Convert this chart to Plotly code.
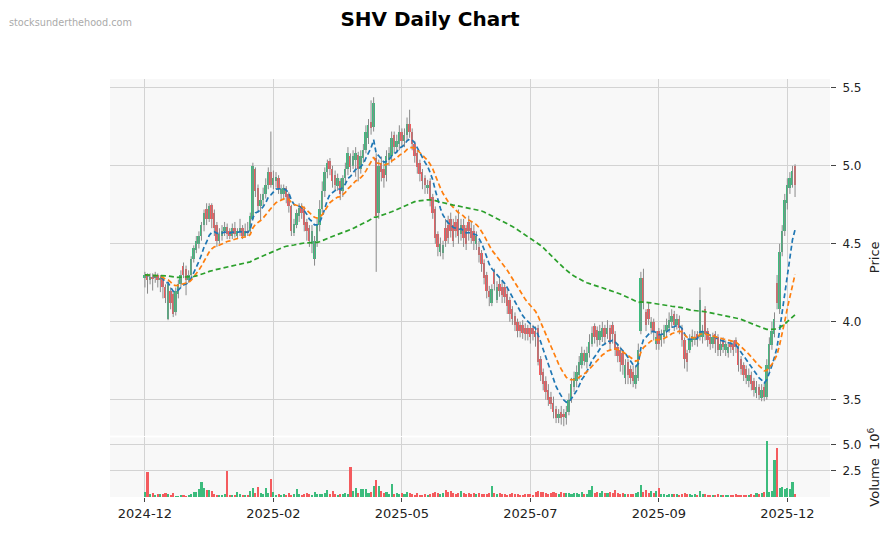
import plotly.graph_objects as go
import pandas as pd

tick_pos = [0, 50, 100, 150, 200, 250]
tick_labels = ["2024-12", "2025-02", "2025-05", "2025-07", "2025-09", "2025-12"]

opens = [
    4.28, 4.30, 4.27, 4.29, 4.28, 4.30, 4.27, 4.28, 4.22, 4.02,
    4.20, 4.18, 4.06, 4.18, 4.24, 4.36, 4.34, 4.27, 4.30, 4.40,
    4.46, 4.50, 4.55, 4.62, 4.72, 4.66, 4.75, 4.70, 4.62, 4.52,
    4.55, 4.58, 4.61, 4.58, 4.55, 4.60, 4.55, 4.58, 4.60, 4.55,
    4.58, 4.58, 4.66, 4.98, 4.86, 4.74, 4.78, 4.82, 4.88, 4.96,
    4.88, 4.90, 4.92, 4.82, 4.82, 4.86, 4.82, 4.74, 4.57, 4.62,
    4.68, 4.74, 4.72, 4.64, 4.60, 4.50, 4.40, 4.52, 4.62, 4.72,
    4.84, 4.96, 5.03, 4.98, 4.94, 4.87, 4.90, 4.84, 4.92, 4.98,
    5.06, 5.00, 5.04, 5.07, 4.98, 5.05, 5.10, 5.18, 5.28, 5.25,
    5.05, 4.70, 5.02, 4.98, 4.94, 5.04, 5.06, 5.20, 5.12, 5.14,
    5.22, 5.16, 5.20, 5.27, 5.22, 5.14, 5.08, 5.02, 4.96, 4.92,
    4.86, 4.90, 4.80, 4.72, 4.56, 4.45, 4.44, 4.60, 4.62, 4.66,
    4.62, 4.64, 4.66, 4.56, 4.62, 4.60, 4.64, 4.60, 4.58, 4.50,
    4.48, 4.44, 4.38, 4.30, 4.20, 4.12, 4.32, 4.14, 4.24, 4.22,
    4.22, 4.18, 4.14, 4.08, 4.04, 4.00, 3.98, 3.98, 3.96, 3.96,
    3.96, 3.96, 3.94, 3.96, 3.76, 3.68, 3.62, 3.56, 3.52, 3.48,
    3.44, 3.38, 3.42, 3.41, 3.38, 3.42, 3.50, 3.58, 3.62, 3.66,
    3.72, 3.80, 3.74, 3.80, 3.86, 3.97, 3.95, 3.88, 3.90, 3.96,
    3.92, 3.96, 3.98, 3.92, 3.84, 3.82, 3.80, 3.64, 3.74, 3.70,
    3.68, 3.60, 3.64, 3.94, 4.28, 4.06, 4.08, 3.96, 4.00, 3.86,
    3.94, 3.88, 3.90, 3.94, 3.96, 4.00, 4.05, 3.98, 4.02, 3.96,
    3.88, 3.80, 3.82, 3.87, 3.88, 3.92, 3.90, 3.90, 4.08, 3.94,
    3.90, 3.86, 3.92, 3.90, 3.82, 3.88, 3.82, 3.80, 3.86, 3.86,
    3.88, 3.84, 3.76, 3.72, 3.70, 3.62, 3.66, 3.62, 3.54, 3.58,
    3.51, 3.58, 3.52, 3.70, 3.85, 3.92, 4.25, 4.08, 4.45, 4.58,
    4.76, 4.86, 4.88, 5.00,
]

closes = [
    4.30, 4.27, 4.29, 4.28, 4.30, 4.27, 4.28, 4.22, 4.15, 4.24,
    4.12, 4.05, 4.20, 4.24, 4.30, 4.30, 4.27, 4.30, 4.40, 4.47,
    4.52, 4.55, 4.62, 4.70, 4.66, 4.74, 4.66, 4.60, 4.52, 4.56,
    4.58, 4.61, 4.56, 4.55, 4.60, 4.56, 4.58, 4.60, 4.55, 4.58,
    4.57, 4.68, 5.00, 4.84, 4.74, 4.78, 4.82, 4.88, 4.96, 4.88,
    4.92, 4.93, 4.86, 4.85, 4.86, 4.80, 4.74, 4.58, 4.63, 4.70,
    4.73, 4.70, 4.62, 4.58, 4.52, 4.58, 4.52, 4.62, 4.72, 4.84,
    4.96, 5.02, 4.98, 4.90, 4.88, 4.92, 4.82, 4.92, 4.98, 5.08,
    4.99, 5.06, 5.08, 4.98, 5.06, 5.10, 5.22, 5.26, 5.24, 5.40,
    4.68, 5.00, 4.96, 4.92, 5.06, 5.08, 5.18, 5.12, 5.16, 5.22,
    5.16, 5.20, 5.27, 5.22, 5.14, 5.06, 4.99, 4.95, 4.90, 4.88,
    4.88, 4.78, 4.70, 4.54, 4.48, 4.50, 4.49, 4.52, 4.54, 4.58,
    4.52, 4.58, 4.55, 4.62, 4.54, 4.50, 4.58, 4.54, 4.52, 4.55,
    4.43, 4.37, 4.28, 4.20, 4.16, 4.21, 4.24, 4.22, 4.20, 4.17,
    4.16, 4.10, 4.05, 4.02, 3.98, 3.94, 3.94, 3.93, 3.92, 3.92,
    3.90, 3.92, 3.90, 3.74, 3.66, 3.60, 3.55, 3.50, 3.47, 3.42,
    3.38, 3.41, 3.38, 3.39, 3.42, 3.50, 3.60, 3.64, 3.68, 3.74,
    3.80, 3.75, 3.80, 3.87, 3.93, 3.90, 3.88, 3.94, 3.96, 3.90,
    3.96, 3.86, 3.92, 3.82, 3.78, 3.74, 3.72, 3.72, 3.66, 3.64,
    3.62, 3.66, 3.82, 4.28, 4.12, 3.98, 4.02, 4.00, 3.94, 3.90,
    3.86, 3.92, 3.95, 3.98, 4.01, 4.04, 3.98, 4.02, 3.96, 3.88,
    3.76, 3.74, 3.88, 3.91, 3.90, 3.88, 4.14, 3.94, 3.92, 3.88,
    3.86, 3.90, 3.86, 3.82, 3.86, 3.84, 3.86, 3.84, 3.84, 3.82,
    3.84, 3.72, 3.70, 3.66, 3.64, 3.66, 3.60, 3.56, 3.58, 3.53,
    3.56, 3.52, 3.72, 3.86, 3.94, 4.02, 4.12, 4.45, 4.58, 4.78,
    4.88, 4.92, 4.97, 4.88,
]

highs = [
    4.32, 4.31, 4.31, 4.31, 4.32, 4.31, 4.30, 4.29, 4.24, 4.26,
    4.22, 4.19, 4.22, 4.27, 4.33, 4.38, 4.36, 4.33, 4.42, 4.49,
    4.55, 4.58, 4.64, 4.72, 4.76, 4.76, 4.76, 4.72, 4.64, 4.60,
    4.62, 4.64, 4.63, 4.60, 4.63, 4.64, 4.60, 4.66, 4.62, 4.63,
    4.64, 4.70, 5.02, 4.99, 4.88, 4.82, 4.86, 4.92, 4.99, 5.22,
    4.97, 4.96, 4.94, 4.88, 4.88, 4.87, 4.83, 4.75, 4.66, 4.72,
    4.76, 4.76, 4.74, 4.66, 4.62, 4.62, 4.55, 4.66, 4.78, 4.90,
    4.99, 5.04, 5.05, 5.00, 4.97, 4.95, 4.92, 4.94, 5.02, 5.12,
    5.08, 5.10, 5.12, 5.09, 5.10, 5.14, 5.26, 5.30, 5.42, 5.44,
    5.08, 5.04, 5.06, 5.03, 5.10, 5.12, 5.22, 5.22, 5.20, 5.26,
    5.24, 5.24, 5.31, 5.36, 5.24, 5.16, 5.10, 5.04, 4.98, 4.94,
    4.91, 4.92, 4.82, 4.74, 4.58, 4.54, 4.52, 4.66, 4.68, 4.70,
    4.66, 4.68, 4.72, 4.66, 4.66, 4.62, 4.68, 4.64, 4.62, 4.58,
    4.52, 4.46, 4.40, 4.32, 4.23, 4.24, 4.34, 4.26, 4.28, 4.26,
    4.24, 4.22, 4.16, 4.10, 4.06, 4.02, 4.00, 4.01, 3.99, 3.98,
    3.99, 3.98, 3.97, 3.98, 3.78, 3.70, 3.65, 3.60, 3.55, 3.52,
    3.46, 3.44, 3.46, 3.44, 3.46, 3.54, 3.64, 3.68, 3.72, 3.78,
    3.84, 3.82, 3.84, 3.92, 3.97, 3.99, 3.97, 3.98, 4.00, 3.98,
    4.01, 3.98, 4.00, 3.94, 3.86, 3.84, 3.82, 3.76, 3.76, 3.72,
    3.72, 3.72, 3.86, 4.32, 4.34, 4.08, 4.12, 4.03, 4.02, 3.94,
    3.96, 3.95, 3.98, 4.02, 4.06, 4.08, 4.07, 4.05, 4.04, 3.98,
    3.90, 3.82, 3.92, 3.95, 3.94, 3.94, 4.22, 3.98, 4.10, 3.96,
    3.92, 3.93, 3.94, 3.92, 3.89, 3.90, 3.88, 3.87, 3.88, 3.88,
    3.90, 3.86, 3.78, 3.74, 3.72, 3.70, 3.68, 3.64, 3.62, 3.60,
    3.60, 3.60, 3.76, 3.90, 4.00, 4.06, 4.30, 4.50, 4.62, 4.82,
    4.92, 4.96, 5.00, 5.01,
]

lows = [
    4.22, 4.18, 4.24, 4.20, 4.25, 4.22, 4.19, 4.15, 4.12, 4.01,
    4.08, 4.03, 4.04, 4.15, 4.22, 4.28, 4.17, 4.25, 4.28, 4.38,
    4.44, 4.47, 4.52, 4.58, 4.62, 4.64, 4.60, 4.55, 4.48, 4.50,
    4.52, 4.55, 4.53, 4.53, 4.53, 4.54, 4.53, 4.55, 4.53, 4.54,
    4.55, 4.56, 4.65, 4.80, 4.70, 4.65, 4.74, 4.79, 4.85, 4.86,
    4.85, 4.86, 4.82, 4.78, 4.78, 4.76, 4.70, 4.55, 4.55, 4.60,
    4.64, 4.66, 4.58, 4.52, 4.48, 4.44, 4.36, 4.48, 4.58, 4.70,
    4.80, 4.92, 4.94, 4.86, 4.84, 4.84, 4.78, 4.80, 4.88, 4.94,
    4.96, 4.98, 4.93, 4.90, 4.95, 5.02, 5.08, 5.14, 5.20, 5.22,
    4.32, 4.66, 4.90, 4.86, 4.90, 5.00, 5.02, 5.08, 5.08, 5.10,
    5.12, 5.12, 5.16, 5.18, 5.10, 5.02, 4.95, 4.90, 4.85, 4.82,
    4.82, 4.74, 4.66, 4.50, 4.42, 4.42, 4.40, 4.48, 4.50, 4.54,
    4.48, 4.54, 4.50, 4.52, 4.48, 4.46, 4.52, 4.50, 4.46, 4.46,
    4.38, 4.32, 4.24, 4.15, 4.10, 4.10, 4.20, 4.12, 4.16, 4.12,
    4.12, 4.05, 4.00, 3.98, 3.94, 3.90, 3.90, 3.89, 3.88, 3.88,
    3.86, 3.88, 3.84, 3.72, 3.62, 3.56, 3.50, 3.46, 3.44, 3.38,
    3.35, 3.35, 3.34, 3.33, 3.34, 3.40, 3.48, 3.55, 3.58, 3.63,
    3.70, 3.72, 3.70, 3.77, 3.84, 3.86, 3.84, 3.85, 3.87, 3.85,
    3.89, 3.82, 3.86, 3.78, 3.74, 3.68, 3.66, 3.60, 3.60, 3.60,
    3.58, 3.57, 3.62, 3.92, 4.08, 3.94, 3.98, 3.92, 3.88, 3.82,
    3.82, 3.84, 3.86, 3.90, 3.93, 3.96, 3.94, 3.95, 3.92, 3.84,
    3.70, 3.68, 3.80, 3.84, 3.85, 3.84, 3.88, 3.86, 3.88, 3.84,
    3.82, 3.83, 3.80, 3.78, 3.78, 3.80, 3.78, 3.77, 3.80, 3.78,
    3.80, 3.68, 3.66, 3.62, 3.60, 3.58, 3.56, 3.52, 3.51, 3.50,
    3.49, 3.49, 3.50, 3.68, 3.82, 3.90, 4.08, 4.05, 4.42, 4.55,
    4.72, 4.82, 4.86, 4.80,
]

volumes_m = [
    0.45, 2.3, 0.2, 0.35, 0.15, 0.2, 0.25, 0.2, 0.3, 0.2,
    0.15, 0.3, 0.05, 0.05, 0.1, 0.15, 0.05, 0.1, 0.2, 0.4,
    0.4, 0.7, 1.4, 0.8, 0.6, 0.6, 0.5, 0.2, 0.1, 0.1,
    0.1, 0.2, 2.4, 0.15, 0.15, 0.1, 0.4, 0.2, 0.15, 0.1,
    0.15, 0.5, 0.8, 0.3, 0.9, 0.3, 0.2, 0.8, 0.3, 1.7,
    0.4, 0.15, 0.2, 0.1, 0.2, 0.15, 0.3, 0.15, 0.2, 0.7,
    0.2, 0.15, 0.25, 0.3, 0.2, 0.15, 0.4, 0.2, 0.2, 0.2,
    0.3, 0.6, 0.25, 0.5, 0.2, 0.15, 0.2, 0.25, 0.3, 0.2,
    2.85, 0.5, 0.8, 0.3, 0.7, 0.7, 0.7, 0.3, 0.4, 1.0,
    1.57, 1.0, 0.5, 0.3, 0.4, 0.2, 1.15, 0.2, 0.3, 0.2,
    0.3, 0.2, 0.4, 0.3, 0.2, 0.15, 0.3, 0.1, 0.1, 0.2,
    0.15, 0.2, 0.3, 0.4, 0.3, 0.2, 0.3, 0.6, 0.4, 0.5,
    0.3, 0.25, 0.3, 0.5, 0.3, 0.25, 0.3, 0.2, 0.3, 0.2,
    0.3, 0.2, 0.25, 0.2, 0.3, 1.0, 0.3, 0.2, 0.3, 0.2,
    0.2, 0.15, 0.2, 0.3, 0.2, 0.2, 0.15, 0.1, 0.2, 0.2,
    0.2, 0.15, 0.4, 0.5, 0.45, 0.4, 0.3, 0.2, 0.3, 0.4,
    0.3, 0.2, 0.4, 0.3, 0.3, 0.3, 0.2, 0.3, 0.3, 0.25,
    0.4, 0.2, 0.25, 0.6, 1.0, 0.3, 0.4, 0.3, 0.5, 0.3,
    0.3, 0.4, 0.3, 0.6, 0.3, 0.2, 0.3, 0.2, 0.25, 0.2,
    0.2, 0.3, 0.4, 1.1, 0.4, 0.6, 0.3, 0.5, 0.3, 0.5,
    0.8, 0.2, 0.2, 0.15, 0.2, 0.2, 0.2, 0.25, 0.15, 0.2,
    0.3, 0.2, 0.2, 0.15, 0.2, 0.15, 0.5, 0.2, 0.25, 0.15,
    0.15, 0.1, 0.15, 0.2, 0.1, 0.1, 0.1, 0.1, 0.15, 0.1,
    0.2, 0.1, 0.15, 0.1, 0.1, 0.1, 0.2, 0.1, 0.3, 0.25,
    0.3, 0.4, 5.3, 0.4, 0.5, 3.5, 4.65, 0.8, 0.9, 0.7,
    0.8, 0.7, 1.4, 0.25,
]

ma_spans = [10, 20, 120]
ma_colors = ["#1f77b4", "#ff7f0e", "#2ca02c"]

UP = "#3cbc7d"
DOWN = "#f45b5e"
WICK = "#8a8a8a"

n = len(closes)
idx = list(range(n))
df = pd.DataFrame({"o": opens, "h": highs, "l": lows, "c": closes, "v": volumes_m}, index=idx)
is_up = df["c"] >= df["o"]
colors = [UP if u else DOWN for u in is_up]

fig = go.Figure()

# wicks
wx, wy = [], []
for i in idx:
    wx += [i, i, None]
    wy += [df["l"][i], df["h"][i], None]
fig.add_trace(go.Scatter(x=wx, y=wy, mode="lines", line=dict(color=WICK, width=1),
                         xaxis="x2", yaxis="y", hoverinfo="skip", showlegend=False))

# bodies
body_base = [min(o, c) for o, c in zip(opens, closes)]
body_h = [max(abs(c - o), 0.006) for o, c in zip(opens, closes)]
fig.add_trace(go.Bar(x=idx, y=body_h, base=body_base, marker=dict(color=colors, line=dict(width=0)),
                     width=0.75, xaxis="x2", yaxis="y", showlegend=False))

# moving averages
for s, col in zip(ma_spans, ma_colors):
    ma = df["c"].ewm(span=s, adjust=False).mean()
    fig.add_trace(go.Scatter(x=idx, y=ma, mode="lines", line=dict(color=col, width=1.7, dash="5px,3px"),
                             xaxis="x2", yaxis="y", showlegend=False))

# volume
fig.add_trace(go.Bar(x=idx, y=volumes_m, marker=dict(color=colors, line=dict(width=0)), width=0.8,
                     xaxis="x", yaxis="y2", showlegend=False))

xr = [-13.6, 266.6]
grid = "#d3d3d3"
axfont = dict(family="DejaVu Sans", size=12, color="#222222")

# the page body adds an 8px offset; the figure is sized so the plot lands where the reference has it
W, H = 887, 525
fig.update_layout(
    width=W, height=H,
    margin=dict(l=102, r=65, t=71, b=33),
    paper_bgcolor="white", plot_bgcolor="#f8f8f8",
    bargap=0, barmode="overlay",
    font=dict(family="DejaVu Sans", color="#222222"),
    title=dict(text="<b>SHV Daily Chart</b>", x=422 / W, xanchor="center", y=1 - 11 / H, yanchor="middle",
               font=dict(family="DejaVu Sans", size=20, color="black")),
    xaxis=dict(domain=[0, 1], anchor="y2", range=xr, tickmode="array", tickvals=tick_pos, ticktext=tick_labels,
               showgrid=True, gridcolor=grid, gridwidth=1, zeroline=False, ticks="outside", ticklen=4,
               tickcolor="#444", tickfont=dict(family="DejaVu Sans", size=13, color="#222")),
    xaxis2=dict(domain=[0, 1], anchor="y", matches="x", range=xr, tickmode="array", tickvals=tick_pos,
                showticklabels=False, showgrid=True, gridcolor=grid, gridwidth=1, zeroline=False),
    yaxis=dict(domain=[0.147, 1], anchor="x2", side="right", range=[3.27, 5.557],
               tickmode="array", tickvals=[3.5, 4.0, 4.5, 5.0, 5.5], ticktext=["3.5", "4.0", "4.5", "5.0", "5.5"],
               showgrid=True, gridcolor=grid, gridwidth=1, zeroline=False, ticks="outside", ticklen=5,
               ticklabelstandoff=4, tickcolor="#444", tickfont=axfont,
               title=dict(text="Price", font=dict(family="DejaVu Sans", size=13, color="#222"), standoff=9)),
    yaxis2=dict(domain=[0, 0.1425], anchor="x", side="right", range=[0, 5.66],
                tickmode="array", tickvals=[2.5, 5.0], ticktext=["2.5", "5.0"],
                showgrid=True, gridcolor=grid, gridwidth=1, zeroline=False, ticks="outside", ticklen=5,
                ticklabelstandoff=4, tickcolor="#444", tickfont=axfont,
                title=dict(text="Volume  10<sup>6</sup>", font=dict(family="DejaVu Sans", size=13, color="#222"),
                           standoff=9)),
    annotations=[dict(text="stocksunderthehood.com", xref="paper", yref="paper", x=-103 / 720, y=(492 - 14) / 421,
                      xanchor="left", yanchor="middle", showarrow=False,
                      font=dict(family="DejaVu Sans", size=9.7, color="#aaaaaa"))],
)

fig.write_html("out.html")
